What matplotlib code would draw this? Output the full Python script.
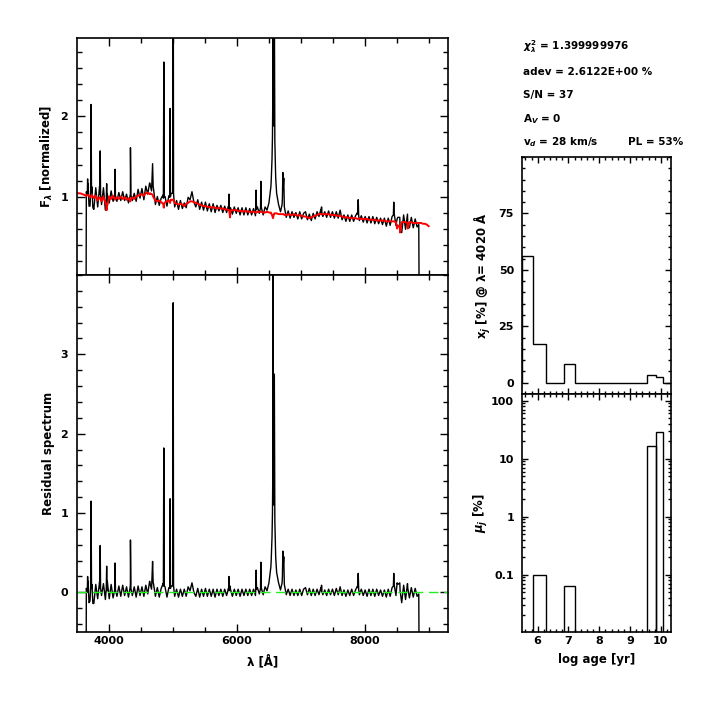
import matplotlib
matplotlib.use('Agg')
import matplotlib.pyplot as plt
from matplotlib.ticker import MultipleLocator, FixedLocator, LogLocator, NullFormatter, FuncFormatter
import numpy as np

plt.rcParams['font.family'] = ['DejaVu Sans']
plt.rcParams['font.weight'] = 'bold'
plt.rcParams['axes.labelweight'] = 'bold'

# spectrum sampled every 30 A: synthetic (red) and observed minus synthetic
cont_wave = [3500, 3530, 3560, 3590, 3620, 3650, 3680, 3710, 3740, 3770,
             3800, 3830, 3860, 3890, 3920, 3950, 3980, 4010, 4040, 4070,
             4100, 4130, 4160, 4190, 4220, 4250, 4280, 4310, 4340, 4370,
             4400, 4430, 4460, 4490, 4520, 4550, 4580, 4610, 4640, 4670,
             4700, 4730, 4760, 4790, 4820, 4850, 4880, 4910, 4940, 4970,
             5000, 5030, 5060, 5090, 5120, 5150, 5180, 5210, 5240, 5270,
             5300, 5330, 5360, 5390, 5420, 5450, 5480, 5510, 5540, 5570,
             5600, 5630, 5660, 5690, 5720, 5750, 5780, 5810, 5840, 5870,
             5900, 5930, 5960, 5990, 6020, 6050, 6080, 6110, 6140, 6170,
             6200, 6230, 6260, 6290, 6320, 6350, 6380, 6410, 6440, 6470,
             6500, 6530, 6560, 6590, 6620, 6650, 6680, 6710, 6740, 6770,
             6800, 6830, 6860, 6890, 6920, 6950, 6980, 7010, 7040, 7070,
             7100, 7130, 7160, 7190, 7220, 7250, 7280, 7310, 7340, 7370,
             7400, 7430, 7460, 7490, 7520, 7550, 7580, 7610, 7640, 7670,
             7700, 7730, 7760, 7790, 7820, 7850, 7880, 7910, 7940, 7970,
             8000, 8030, 8060, 8090, 8120, 8150, 8180, 8210, 8240, 8270,
             8300, 8330, 8360, 8390, 8420, 8450, 8480, 8510, 8540, 8570,
             8600, 8630, 8660, 8690, 8720, 8750, 8780, 8810, 8840, 8870,
             8900, 8930, 8960, 8990]
cont_model = [1.05, 1.04, 1.04, 1.03, 1.02, 1.01, 1.02, 0.99, 1.02, 0.98,
              1.01, 0.95, 0.99, 0.94, 1.00, 0.92, 0.89, 1.00, 0.97, 1.01,
              0.96, 0.99, 0.97, 1.00, 0.97, 0.99, 0.96, 0.98, 0.94, 0.99,
              0.97, 1.00, 1.01, 1.02, 1.03, 1.01, 1.04, 1.05, 1.03, 1.03,
              0.99, 0.95, 0.94, 0.95, 0.93, 0.91, 0.93, 0.94, 0.95, 0.96,
              0.96, 0.92, 0.91, 0.90, 0.91, 0.90, 0.88, 0.91, 0.92, 0.94,
              0.94, 0.93, 0.92, 0.91, 0.90, 0.89, 0.88, 0.88, 0.87, 0.87,
              0.86, 0.87, 0.86, 0.85, 0.86, 0.85, 0.85, 0.84, 0.84, 0.83,
              0.82, 0.83, 0.83, 0.83, 0.82, 0.82, 0.82, 0.81, 0.82, 0.81,
              0.81, 0.81, 0.81, 0.80, 0.81, 0.81, 0.81, 0.80, 0.80, 0.81,
              0.80, 0.80, 0.74, 0.79, 0.79, 0.78, 0.78, 0.78, 0.77, 0.77,
              0.78, 0.77, 0.77, 0.78, 0.77, 0.76, 0.77, 0.76, 0.75, 0.75,
              0.74, 0.73, 0.74, 0.75, 0.76, 0.77, 0.78, 0.78, 0.78, 0.78,
              0.78, 0.78, 0.77, 0.77, 0.77, 0.76, 0.76, 0.76, 0.75, 0.74,
              0.74, 0.74, 0.73, 0.73, 0.73, 0.73, 0.72, 0.73, 0.72, 0.72,
              0.72, 0.72, 0.71, 0.71, 0.71, 0.71, 0.70, 0.70, 0.70, 0.70,
              0.70, 0.69, 0.69, 0.69, 0.69, 0.69, 0.68, 0.64, 0.62, 0.68,
              0.68, 0.68, 0.67, 0.68, 0.68, 0.67, 0.67, 0.67, 0.67, 0.67,
              0.66, 0.66, 0.65, 0.63]
cont_resid = [0, 0, 0, 0, 0, 0, 0.14, -0.11, 0.10, -0.14,
              0.10, -0.08, 0.14, -0.04, 0.11, -0.09, 0.14, -0.08, 0.10, -0.07,
              0.09, -0.05, 0.08, -0.05, 0.09, -0.04, 0.07, -0.06, 0.10, -0.04,
              0.07, -0.06, 0.08, -0.04, 0.07, -0.05, 0.09, -0.02, 0.14, 0.04,
              0.11, -0.05, 0.06, -0.06, 0.05, 0.11, 0.07, -0.06, 0.06, 0.08,
              0.08, -0.05, 0.04, -0.06, 0.04, -0.05, 0.04, -0.05, 0.07, 0.02,
              0.12, 0.00, -0.05, 0.05, -0.06, 0.04, -0.05, 0.05, -0.05, 0.04,
              -0.05, 0.04, -0.06, 0.04, -0.04, 0.04, -0.05, 0.04, -0.04, 0.05,
              0.04, -0.05, 0.04, -0.04, 0.04, -0.05, 0.04, -0.04, 0.04, -0.04,
              0.04, -0.04, 0.04, -0.04, 0.06, -0.02, 0.06, -0.03, 0.07, 0.02,
              0.12, 0.32, 1.50, 1.20, 0.25, 0.12, 0.03, 0.20, 0.10, -0.03,
              0.04, -0.04, 0.04, -0.04, 0.03, -0.04, 0.04, -0.04, 0.04, 0.06,
              -0.03, 0.05, -0.04, 0.04, -0.04, 0.04, -0.03, 0.06, -0.03, 0.03,
              -0.04, 0.04, -0.03, 0.04, -0.04, 0.05, -0.03, 0.07, -0.04, 0.03,
              -0.05, 0.03, -0.04, 0.04, -0.04, 0.03, 0.08, -0.03, 0.04, -0.04,
              0.03, -0.05, 0.04, -0.04, 0.04, -0.05, 0.04, -0.04, 0.03, -0.05,
              0.03, -0.06, 0.04, -0.05, 0.06, 0.15, -0.04, 0.10, 0.12, -0.13,
              0.09, -0.09, 0.11, -0.07, 0.06, -0.06, 0.05, -0.05, 0, 0,
              0, 0, 0, 0]

# extra samples around emission lines and absorption features
line_wave = [3653, 3668, 3673, 3678, 3695, 3720, 3727, 3734, 3755, 3863, 3869, 3875,
             3964, 3970, 3976, 4095, 4101, 4107, 4334, 4341, 4348, 4650, 4675, 4686,
             4695, 4854, 4861, 4868, 4953, 4959, 4965, 5001, 5007, 5013, 5871, 5876,
             5881, 5893, 6294, 6300, 6306, 6369, 6374, 6379, 6520, 6535, 6548, 6555,
             6563, 6572, 6578, 6584, 6592, 6605, 6705, 6717, 6724, 6731, 7316, 7320,
             7326, 7885, 7892, 7899, 8440, 8446, 8452, 8498, 8545, 8665, 8836]
line_model = [1.01, 1.02, 1.02, 1.02, 1.01, 1.00, 1.00, 1.00, 1.00, 0.98, 0.98, 0.98,
              0.90, 0.83, 0.90, 0.97, 0.97, 0.97, 0.95, 0.95, 0.97, 1.04, 1.03, 1.02,
              1.00, 0.90, 0.86, 0.91, 0.94, 0.92, 0.95, 0.96, 0.96, 0.95, 0.83, 0.83,
              0.83, 0.74, 0.80, 0.80, 0.80, 0.81, 0.81, 0.81, 0.80, 0.79, 0.77, 0.75,
              0.73, 0.76, 0.78, 0.79, 0.79, 0.79, 0.78, 0.78, 0.78, 0.78, 0.78, 0.78,
              0.78, 0.72, 0.72, 0.72, 0.69, 0.69, 0.69, 0.60, 0.55, 0.60, 0.67]
line_resid = [0.05, 0.00, 0.20, 0.02, -0.13, 0.05, 1.15, 0.05, -0.14, 0.05, 0.59, 0.05,
              0.05, 0.33, 0.02, 0.03, 0.37, 0.03, 0.05, 0.66, 0.05, 0.10, 0.15, 0.39,
              0.12, 0.08, 1.82, 0.08, 0.05, 1.18, 0.05, 0.10, 3.65, 0.08, 0.03, 0.20,
              0.02, 0.08, 0.04, 0.28, 0.04, 0.05, 0.38, 0.05, 0.25, 0.40, 0.70, 1.00,
              5.20, 1.20, 1.10, 2.75, 0.90, 0.45, 0.12, 0.52, 0.35, 0.45, 0.02, 0.09,
              0.01, 0.06, 0.24, 0.04, 0.08, 0.24, 0.10, 0.12, 0.02, 0.05, -0.02]

obs_start, obs_end = 3653, 8836

# population vectors
age_edges = [5.5, 5.85, 6.26, 6.87, 7.21, 9.54, 9.85, 10.07, 10.33]
x_j = [56.3, 17.2, 0, 8.1, 0, 3.3, 2.5, 0]
mu_j = [0, 0.1, 0, 0.065, 0, 16.5, 29.0, 0]

info_lines = [r'$\chi^2_\lambda$ = 1.399999976',
              'adev = 2.6122E+00 %',
              'S/N = 37',
              r'A$_V$ = 0',
              r'v$_d$ = 28 km/s']
pl_text = 'PL = 53%'

wave = np.array(cont_wave + line_wave, dtype=float)
model = np.array(cont_model + line_model)
resid = np.array(cont_resid + line_resid)
order = np.argsort(wave)
wave, model, resid = wave[order], model[order], resid[order]
inside = (wave >= obs_start) & (wave <= obs_end)
obs = np.where(inside, model + resid, 0.0)
residual = obs - model


def style(ax, major=5.5, minor=3.5, pad=6.5):
    ax.tick_params(which='both', direction='in', top=True, right=True,
                   width=1.0, labelsize=8, pad=pad)
    ax.tick_params(which='major', length=major)
    ax.tick_params(which='minor', length=minor)
    ax.tick_params(axis='x', pad=2.5)
    for s in ax.spines.values():
        s.set_linewidth(1.2)


fig = plt.figure(figsize=(7.08, 7.08), dpi=100)
ax_top = fig.add_axes([0.1088, 0.6116, 0.524, 0.3347])
ax_res = fig.add_axes([0.1088, 0.1073, 0.524, 0.5043])
ax_x = fig.add_axes([0.7377, 0.4435, 0.21, 0.3347])
ax_mu = fig.add_axes([0.7377, 0.1073, 0.21, 0.3362])

# observed and synthetic spectra
ax_top.plot(wave, obs, color='black', lw=1.0)
ax_top.plot(wave, model, color='red', lw=1.4)
ax_top.set_xlim(3508, 9292)
ax_top.set_ylim(0.02, 2.98)
ax_top.xaxis.set_major_locator(MultipleLocator(2000))
ax_top.xaxis.set_minor_locator(MultipleLocator(500))
ax_top.yaxis.set_major_locator(MultipleLocator(1))
ax_top.yaxis.set_minor_locator(MultipleLocator(0.2))
ax_top.set_xticklabels([])
style(ax_top)
ax_top.set_ylabel(r'F$_\lambda$ [normalized]', fontsize=8.5)
ax_top.yaxis.set_label_coords(-0.059, 0.5)

# residual spectrum
ax_res.plot(wave, residual, color='black', lw=1.0)
ax_res.axhline(0, color='#22ee22', lw=1.0, ls=(0, (7, 4)))
ax_res.set_xlim(3508, 9292)
ax_res.set_ylim(-0.5, 4.0)
ax_res.xaxis.set_major_locator(MultipleLocator(2000))
ax_res.xaxis.set_minor_locator(MultipleLocator(500))
ax_res.yaxis.set_major_locator(FixedLocator([0, 1, 2, 3]))
ax_res.yaxis.set_minor_locator(MultipleLocator(0.2))
style(ax_res)
ax_res.set_ylabel('Residual spectrum', fontsize=8.5)
ax_res.yaxis.set_label_coords(-0.059, 0.5)
ax_res.set_xlabel('λ [Å]', fontsize=8.5)
ax_res.xaxis.set_label_coords(0.5, -0.065)

# light fractions
ax_x.stairs(x_j, age_edges, color='black', lw=1.0, baseline=0)
ax_x.set_xlim(5.5, 10.33)
ax_x.set_ylim(-5, 100)
ax_x.xaxis.set_major_locator(MultipleLocator(1))
ax_x.xaxis.set_minor_locator(MultipleLocator(0.2))
ax_x.yaxis.set_major_locator(FixedLocator([0, 25, 50, 75]))
ax_x.yaxis.set_minor_locator(MultipleLocator(5))
ax_x.set_xticklabels([])
style(ax_x, major=4.5, minor=2.5, pad=6)
ax_x.set_ylabel(r'x$_j$ [%] @ λ= 4020 Å', fontsize=8.5)
ax_x.yaxis.set_label_coords(-0.2, 0.5)

# mass fractions
for i, m in enumerate(mu_j):
    if m > 0:
        ax_mu.bar(age_edges[i], m, width=age_edges[i + 1] - age_edges[i],
                  align='edge', fill=False, edgecolor='black', lw=1.0)
ax_mu.set_yscale('log')
ax_mu.set_xlim(5.5, 10.33)
ax_mu.set_ylim(0.0103, 130)
ax_mu.xaxis.set_major_locator(MultipleLocator(1))
ax_mu.xaxis.set_minor_locator(MultipleLocator(0.2))
ax_mu.yaxis.set_major_locator(FixedLocator([0.1, 1, 10, 100]))
ax_mu.yaxis.set_minor_locator(LogLocator(subs=np.arange(2, 10)))
ax_mu.yaxis.set_minor_formatter(NullFormatter())
ax_mu.yaxis.set_major_formatter(FuncFormatter(lambda v, p: '%g' % v))
style(ax_mu, major=4.5, minor=2.5, pad=6)
ax_mu.set_ylabel(r'$\mu_j$ [%]', fontsize=8.5)
ax_mu.yaxis.set_label_coords(-0.22, 0.5)
ax_mu.set_xlabel('log age [yr]', fontsize=8.5)
ax_mu.xaxis.set_label_coords(0.5, -0.09)

# fit summary
text_y = [46.7, 71.7, 95.0, 119.3, 142.3]
for s, y in zip(info_lines, text_y):
    fig.text(0.738, 1 - y / 708, s, fontsize=7.5, va='center')
fig.text(628.3 / 708, 1 - text_y[-1] / 708, pl_text, fontsize=7.5, va='center')

fig.savefig('out.png', dpi=100)
